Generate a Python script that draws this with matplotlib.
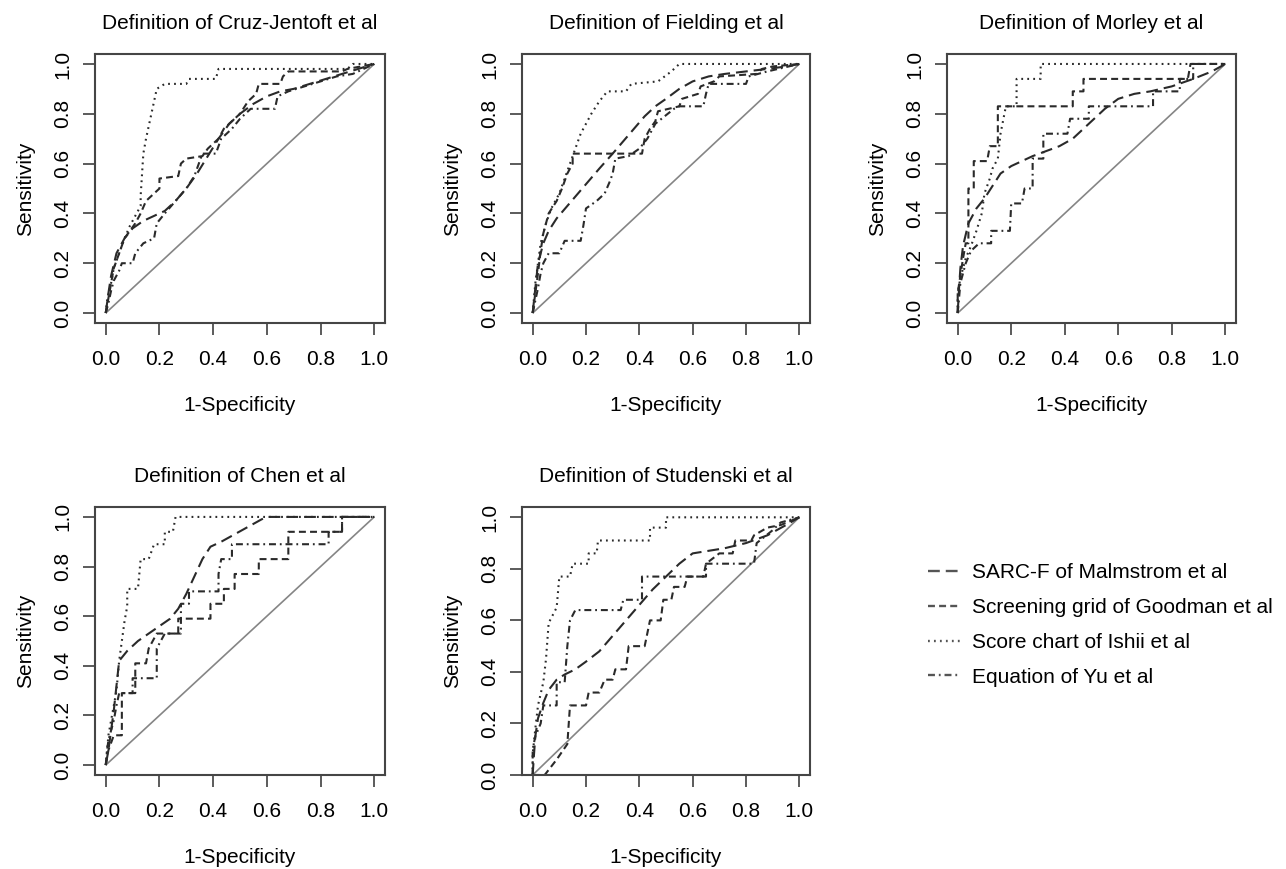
import matplotlib
matplotlib.use('Agg')
import matplotlib.pyplot as plt
from matplotlib.lines import Line2D

plt.rcParams['font.family'] = ['Liberation Sans', 'DejaVu Sans']
plt.rcParams['lines.scale_dashes'] = False

TITLES = ['Definition of Cruz-Jentoft et al', 'Definition of Fielding et al',
          'Definition of Morley et al', 'Definition of Chen et al',
          'Definition of Studenski et al']
METHODS = ['SARC-F of Malmstrom et al', 'Screening grid of Goodman et al',
           'Score chart of Ishii et al', 'Equation of Yu et al']
TICKS = [0.0, 0.2, 0.4, 0.6, 0.8, 1.0]
TICK_LABELS = ['0.0', '0.2', '0.4', '0.6', '0.8', '1.0']

# Cruz-Jentoft: (1-specificity, sensitivity) for each method
cj_sarcf_x = [0, 0.01, 0.02, 0.04, 0.07, 0.10, 0.14, 0.18, 0.22, 0.26, 0.30, 0.34, 0.38, 0.42, 0.46, 0.50, 0.55, 0.60, 0.65, 0.70, 0.76, 0.82, 0.88, 0.94, 1.0]
cj_sarcf_y = [0, 0.08, 0.15, 0.24, 0.30, 0.34, 0.37, 0.39, 0.41, 0.45, 0.50, 0.56, 0.63, 0.70, 0.76, 0.80, 0.84, 0.87, 0.89, 0.90, 0.92, 0.94, 0.96, 0.98, 1.0]
cj_grid_x = [0, 0.01, 0.02, 0.03, 0.05, 0.07, 0.09, 0.11, 0.13, 0.15, 0.18, 0.20, 0.20, 0.27, 0.28, 0.30, 0.36, 0.38, 0.42, 0.44, 0.47, 0.50, 0.53, 0.56, 0.57, 0.65, 0.66, 0.68, 0.88, 0.90, 1.0]
cj_grid_y = [0, 0.06, 0.12, 0.18, 0.24, 0.30, 0.33, 0.36, 0.40, 0.45, 0.48, 0.50, 0.54, 0.55, 0.60, 0.62, 0.63, 0.66, 0.70, 0.74, 0.77, 0.80, 0.85, 0.88, 0.92, 0.92, 0.95, 0.97, 0.97, 0.98, 1.0]
cj_ishii_x = [0, 0.005, 0.02, 0.03, 0.05, 0.07, 0.09, 0.11, 0.13, 0.13, 0.14, 0.15, 0.17, 0.19, 0.22, 0.30, 0.31, 0.41, 0.42, 0.90, 0.92, 1.0]
cj_ishii_y = [0, 0.05, 0.12, 0.18, 0.24, 0.30, 0.35, 0.39, 0.43, 0.47, 0.64, 0.70, 0.80, 0.90, 0.92, 0.92, 0.94, 0.94, 0.98, 0.98, 1.0, 1.0]
cj_yu_x = [0, 0.01, 0.02, 0.03, 0.05, 0.06, 0.10, 0.11, 0.14, 0.18, 0.19, 0.22, 0.26, 0.30, 0.33, 0.36, 0.41, 0.43, 0.47, 0.50, 0.54, 0.63, 0.64, 0.68, 0.74, 0.80, 0.86, 0.92, 0.96, 1.0]
cj_yu_y = [0, 0.04, 0.09, 0.13, 0.17, 0.20, 0.20, 0.24, 0.28, 0.30, 0.36, 0.40, 0.45, 0.50, 0.55, 0.64, 0.64, 0.70, 0.74, 0.78, 0.82, 0.82, 0.87, 0.89, 0.91, 0.93, 0.95, 0.96, 0.98, 1.0]

# Fielding
fi_sarcf_x = [0, 0.01, 0.02, 0.04, 0.06, 0.09, 0.13, 0.17, 0.21, 0.25, 0.30, 0.34, 0.38, 0.42, 0.46, 0.50, 0.55, 0.60, 0.66, 0.72, 0.80, 0.88, 0.95, 1.0]
fi_sarcf_y = [0, 0.10, 0.20, 0.28, 0.33, 0.38, 0.43, 0.48, 0.53, 0.58, 0.64, 0.69, 0.74, 0.79, 0.83, 0.86, 0.90, 0.93, 0.95, 0.96, 0.97, 0.98, 0.99, 1.0]
fi_grid_x = [0, 0.01, 0.02, 0.03, 0.04, 0.06, 0.09, 0.11, 0.13, 0.15, 0.15, 0.41, 0.42, 0.44, 0.46, 0.47, 0.55, 0.56, 0.62, 0.63, 0.68, 0.70, 0.84, 0.86, 0.90, 1.0]
fi_grid_y = [0, 0.08, 0.16, 0.25, 0.32, 0.40, 0.45, 0.50, 0.56, 0.60, 0.64, 0.64, 0.70, 0.74, 0.77, 0.81, 0.83, 0.86, 0.88, 0.91, 0.93, 0.95, 0.96, 0.98, 0.99, 1.0]
fi_ishii_x = [0, 0.005, 0.01, 0.02, 0.03, 0.05, 0.07, 0.10, 0.12, 0.14, 0.16, 0.18, 0.22, 0.25, 0.28, 0.35, 0.37, 0.47, 0.52, 0.55, 1.0]
fi_ishii_y = [0, 0.06, 0.12, 0.20, 0.28, 0.36, 0.42, 0.48, 0.54, 0.60, 0.66, 0.72, 0.80, 0.85, 0.89, 0.89, 0.92, 0.93, 0.97, 1.0, 1.0]
fi_yu_x = [0, 0.01, 0.02, 0.03, 0.04, 0.06, 0.10, 0.12, 0.18, 0.19, 0.20, 0.24, 0.27, 0.29, 0.30, 0.31, 0.36, 0.40, 0.43, 0.46, 0.53, 0.55, 0.64, 0.65, 0.66, 0.80, 0.81, 0.88, 0.92, 1.0]
fi_yu_y = [0, 0.05, 0.10, 0.16, 0.20, 0.24, 0.24, 0.29, 0.29, 0.35, 0.42, 0.45, 0.48, 0.53, 0.56, 0.62, 0.63, 0.66, 0.70, 0.76, 0.82, 0.83, 0.83, 0.88, 0.92, 0.92, 0.95, 0.97, 0.98, 1.0]

# Morley
mo_sarcf_x = [0, 0.005, 0.01, 0.02, 0.04, 0.07, 0.10, 0.13, 0.16, 0.20, 0.24, 0.28, 0.33, 0.38, 0.43, 0.47, 0.51, 0.55, 0.60, 0.66, 0.72, 0.80, 0.88, 0.95, 1.0]
mo_sarcf_y = [0, 0.10, 0.18, 0.27, 0.36, 0.42, 0.46, 0.51, 0.56, 0.59, 0.61, 0.63, 0.65, 0.67, 0.70, 0.74, 0.78, 0.82, 0.86, 0.88, 0.89, 0.91, 0.94, 0.97, 1.0]
mo_grid_x = [0, 0.0, 0.01, 0.02, 0.03, 0.04, 0.04, 0.06, 0.06, 0.11, 0.12, 0.15, 0.15, 0.43, 0.43, 0.47, 0.47, 0.86, 0.87, 1.0]
mo_grid_y = [0, 0.08, 0.15, 0.22, 0.28, 0.28, 0.50, 0.50, 0.61, 0.61, 0.67, 0.67, 0.83, 0.83, 0.89, 0.89, 0.94, 0.94, 1.0, 1.0]
mo_ishii_x = [0, 0.0, 0.01, 0.02, 0.03, 0.05, 0.07, 0.09, 0.10, 0.12, 0.13, 0.15, 0.16, 0.18, 0.22, 0.22, 0.31, 0.31, 1.0]
mo_ishii_y = [0, 0.08, 0.14, 0.18, 0.22, 0.27, 0.33, 0.40, 0.48, 0.54, 0.58, 0.62, 0.72, 0.83, 0.83, 0.94, 0.94, 1.0, 1.0]
mo_yu_x = [0, 0.005, 0.01, 0.03, 0.05, 0.08, 0.125, 0.125, 0.195, 0.20, 0.24, 0.25, 0.28, 0.28, 0.32, 0.32, 0.41, 0.42, 0.49, 0.49, 0.73, 0.73, 0.83, 0.83, 0.88, 0.88, 1.0]
mo_yu_y = [0, 0.06, 0.12, 0.20, 0.25, 0.28, 0.28, 0.33, 0.33, 0.44, 0.44, 0.50, 0.50, 0.62, 0.62, 0.72, 0.72, 0.78, 0.78, 0.83, 0.83, 0.89, 0.89, 0.94, 0.94, 1.0, 1.0]

# Chen
ch_sarcf_x = [0, 0.01, 0.02, 0.03, 0.04, 0.05, 0.08, 0.12, 0.16, 0.20, 0.24, 0.27, 0.30, 0.33, 0.36, 0.39, 0.43, 0.48, 0.53, 0.58, 0.60, 1.0]
ch_sarcf_y = [0, 0.06, 0.14, 0.22, 0.32, 0.42, 0.46, 0.50, 0.53, 0.56, 0.59, 0.63, 0.69, 0.76, 0.83, 0.88, 0.90, 0.93, 0.96, 0.99, 1.0, 1.0]
ch_grid_x = [0, 0.01, 0.03, 0.06, 0.06, 0.11, 0.11, 0.15, 0.16, 0.19, 0.27, 0.27, 0.39, 0.39, 0.44, 0.44, 0.48, 0.48, 0.57, 0.57, 0.68, 0.68, 0.88, 0.88, 1.0]
ch_grid_y = [0, 0.06, 0.12, 0.12, 0.29, 0.29, 0.41, 0.41, 0.47, 0.53, 0.53, 0.59, 0.59, 0.65, 0.65, 0.71, 0.71, 0.77, 0.77, 0.83, 0.83, 0.94, 0.94, 1.0, 1.0]
ch_ishii_x = [0, 0.005, 0.01, 0.02, 0.03, 0.04, 0.05, 0.06, 0.07, 0.08, 0.08, 0.12, 0.13, 0.16, 0.18, 0.22, 0.22, 0.25, 0.26, 1.0]
ch_ishii_y = [0, 0.06, 0.12, 0.18, 0.24, 0.30, 0.42, 0.50, 0.58, 0.64, 0.71, 0.71, 0.83, 0.83, 0.89, 0.89, 0.94, 0.94, 1.0, 1.0]
ch_yu_x = [0, 0.005, 0.01, 0.02, 0.03, 0.04, 0.05, 0.10, 0.10, 0.19, 0.19, 0.22, 0.28, 0.28, 0.31, 0.31, 0.42, 0.42, 0.43, 0.47, 0.47, 0.83, 0.83, 0.88, 0.88, 1.0]
ch_yu_y = [0, 0.06, 0.10, 0.14, 0.18, 0.24, 0.29, 0.29, 0.35, 0.35, 0.47, 0.53, 0.53, 0.65, 0.65, 0.70, 0.70, 0.77, 0.83, 0.83, 0.89, 0.89, 0.94, 0.94, 1.0, 1.0]

# Studenski
st_sarcf_x = [0, 0.005, 0.01, 0.02, 0.04, 0.06, 0.09, 0.12, 0.16, 0.20, 0.25, 0.30, 0.35, 0.40, 0.45, 0.50, 0.55, 0.60, 0.66, 0.72, 0.80, 0.88, 0.95, 1.0]
st_sarcf_y = [0, 0.08, 0.15, 0.22, 0.28, 0.33, 0.37, 0.39, 0.41, 0.44, 0.48, 0.54, 0.60, 0.66, 0.72, 0.77, 0.82, 0.86, 0.87, 0.88, 0.90, 0.93, 0.97, 1.0]
st_grid_x = [0, 0.045, 0.09, 0.13, 0.14, 0.20, 0.21, 0.25, 0.27, 0.30, 0.31, 0.35, 0.36, 0.42, 0.43, 0.44, 0.48, 0.49, 0.52, 0.53, 0.57, 0.58, 0.64, 0.65, 0.70, 0.75, 0.76, 0.82, 0.83, 0.88, 0.93, 1.0]
st_grid_y = [0, 0.0, 0.06, 0.12, 0.27, 0.27, 0.32, 0.32, 0.37, 0.37, 0.41, 0.41, 0.50, 0.50, 0.55, 0.60, 0.60, 0.68, 0.68, 0.73, 0.73, 0.77, 0.77, 0.82, 0.86, 0.86, 0.91, 0.91, 0.93, 0.96, 0.97, 1.0]
st_ishii_x = [0, 0.0, 0.01, 0.02, 0.04, 0.05, 0.06, 0.09, 0.10, 0.14, 0.15, 0.21, 0.21, 0.24, 0.245, 0.44, 0.44, 0.50, 0.50, 1.0]
st_ishii_y = [0, 0.08, 0.18, 0.27, 0.36, 0.45, 0.59, 0.65, 0.77, 0.77, 0.82, 0.82, 0.86, 0.86, 0.91, 0.91, 0.96, 0.96, 1.0, 1.0]
st_yu_x = [0, 0.0, 0.01, 0.03, 0.04, 0.09, 0.09, 0.12, 0.13, 0.14, 0.16, 0.33, 0.34, 0.41, 0.41, 0.65, 0.65, 0.83, 0.84, 0.90, 0.93, 1.0]
st_yu_y = [0, 0.10, 0.15, 0.20, 0.27, 0.27, 0.36, 0.36, 0.50, 0.60, 0.64, 0.64, 0.68, 0.68, 0.77, 0.77, 0.82, 0.82, 0.90, 0.95, 0.98, 1.0]

PANELS = [
    [(cj_sarcf_x, cj_sarcf_y), (cj_grid_x, cj_grid_y), (cj_ishii_x, cj_ishii_y), (cj_yu_x, cj_yu_y)],
    [(fi_sarcf_x, fi_sarcf_y), (fi_grid_x, fi_grid_y), (fi_ishii_x, fi_ishii_y), (fi_yu_x, fi_yu_y)],
    [(mo_sarcf_x, mo_sarcf_y), (mo_grid_x, mo_grid_y), (mo_ishii_x, mo_ishii_y), (mo_yu_x, mo_yu_y)],
    [(ch_sarcf_x, ch_sarcf_y), (ch_grid_x, ch_grid_y), (ch_ishii_x, ch_ishii_y), (ch_yu_x, ch_yu_y)],
    [(st_sarcf_x, st_sarcf_y), (st_grid_x, st_grid_y), (st_ishii_x, st_ishii_y), (st_yu_x, st_yu_y)],
]

# R-like line types: longdash, dashed, dotted, dotdash
STYLES = [(0, (8.5, 4.3)), (0, (5.0, 3.0)), (0, (1.3, 3.0)), (0, (5.0, 2.8, 1.3, 2.8))]
CURVE_COLOR = '#2a2a2a'
FS = 15

W, H = 1286, 869
# axes boxes in pixels: left, top, right, bottom
BOXES = [(95, 54, 385, 323), (522, 54, 810, 323), (947, 54, 1236, 323),
         (95, 507, 385, 775), (522, 507, 810, 775)]
YLIMS = [(-0.04, 1.04), (-0.04, 1.04), (-0.04, 1.04), (-0.04, 1.04), (0.0, 1.04)]


def drawPanel(fig, box, title, curves, ylim):
	l, t, r, b = box
	ax = fig.add_axes([l / W, 1 - b / H, (r - l) / W, (b - t) / H])
	ax.plot([0, 1], [0, 1], color='#858585', lw=1.2, solid_capstyle='butt')
	for (x, y), ls in zip(curves, STYLES):
		ax.plot(x, y, color=CURVE_COLOR, lw=1.5, linestyle=ls)
	ax.set_xlim(-0.04, 1.04)
	ax.set_ylim(*ylim)
	ax.set_xticks(TICKS)
	ax.set_xticklabels(TICK_LABELS)
	ax.set_yticks(TICKS)
	ax.set_yticklabels(TICK_LABELS, rotation=90, va='center')
	ax.tick_params(axis='both', length=8.6, width=1.2, color='#404040', labelsize=FS)
	ax.tick_params(axis='x', pad=11)
	ax.tick_params(axis='y', pad=8)
	for s in ax.spines.values():
		s.set_color('#454545')
		s.set_linewidth(1.5)
	ax.set_title(title, fontsize=FS, pad=18)
	ax.set_xlabel('1-Specificity', fontsize=FS, labelpad=19)
	ax.set_ylabel('Sensitivity', fontsize=FS, labelpad=13)
	return ax


def drawLegend(fig):
	handles = [Line2D([], [], color='#555555', lw=1.7, linestyle=ls) for ls in STYLES]
	fig.legend(handles, METHODS, loc='center left', bbox_to_anchor=(928 / W, 1 - 625 / H),
	           frameon=False, fontsize=FS, handlelength=1.53, handletextpad=0.57,
	           labelspacing=0.76, borderpad=0, borderaxespad=0)


if __name__ == "__main__":
	fig = plt.figure(figsize=(W / 100, H / 100), dpi=100)
	for box, title, curves, ylim in zip(BOXES, TITLES, PANELS, YLIMS):
		drawPanel(fig, box, title, curves, ylim)
	drawLegend(fig)
	fig.savefig('out.png', dpi=100, facecolor='white')
